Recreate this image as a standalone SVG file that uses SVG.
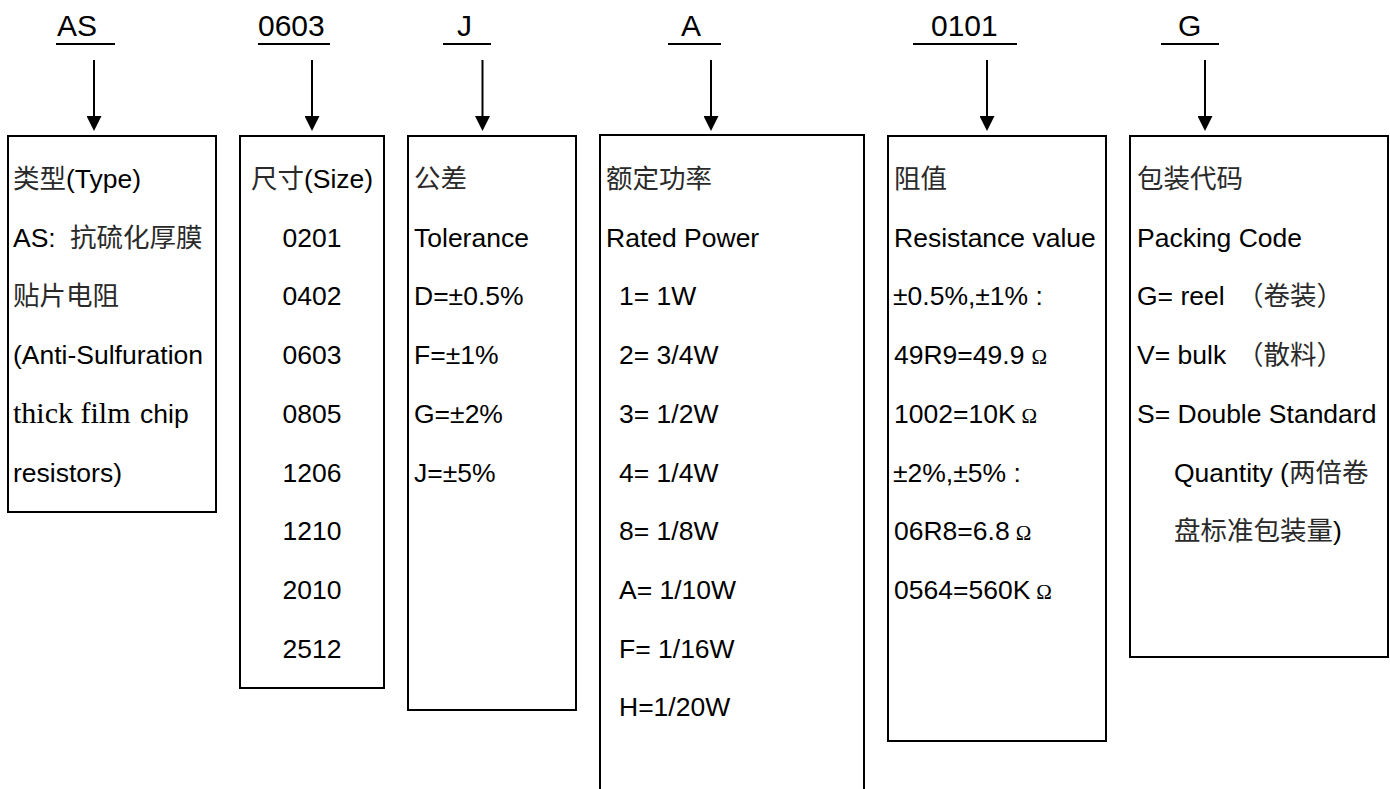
<svg xmlns="http://www.w3.org/2000/svg" width="1390" height="789" viewBox="0 0 1390 789">
<defs>
<style>
.box{fill:none;stroke:#000;stroke-width:2}
.ul{stroke:#000;stroke-width:2}
.code{font-family:"Liberation Sans",Arial,"Noto Sans CJK SC",sans-serif;font-size:30px;fill:#000}
.t{font-family:"Liberation Sans",Arial,"Noto Sans CJK SC",sans-serif;font-size:26.5px;fill:#000}
.zh{font-family:"Noto Sans CJK SC",sans-serif;fill:#2a2a2a}
.serif{font-family:"Liberation Serif","Times New Roman",serif;font-size:30px}
.ohm{font-family:"Liberation Serif","Times New Roman",serif;font-size:21px}
.c{text-anchor:middle}
.conn line{stroke:#000;stroke-width:2}
</style>
<marker id="ah" viewBox="0 0 15 15" refX="0" refY="7.5" markerWidth="15" markerHeight="15" markerUnits="userSpaceOnUse" orient="auto">
<path d="M0,0 L15,7.5 L0,15 z" fill="#000"/>
</marker>
</defs>
<rect width="1390" height="789" fill="#fff"/>

<g id="label-AS"><text class="code" x="57" y="36">AS</text><line class="ul" x1="56" y1="44" x2="115" y2="44"/></g>
<g id="label-0603"><text class="code" x="258" y="36">0603</text><line class="ul" x1="258" y1="44" x2="330" y2="44"/></g>
<g id="label-J"><text class="code" x="457" y="36">J</text><line class="ul" x1="443" y1="44" x2="491" y2="44"/></g>
<g id="label-A"><text class="code" x="681" y="36">A</text><line class="ul" x1="668" y1="44" x2="721" y2="44"/></g>
<g id="label-0101"><text class="code" x="931" y="36">0101</text><line class="ul" x1="913" y1="44" x2="1017" y2="44"/></g>
<g id="label-G"><text class="code" x="1178" y="36">G</text><line class="ul" x1="1161" y1="44" x2="1219" y2="44"/></g>

<g id="connectors" class="conn">
<line x1="94" y1="60" x2="94" y2="116" marker-end="url(#ah)"/>
<line x1="312" y1="60" x2="312" y2="116" marker-end="url(#ah)"/>
<line x1="482.5" y1="60" x2="482.5" y2="116" marker-end="url(#ah)"/>
<line x1="711" y1="60" x2="711" y2="116" marker-end="url(#ah)"/>
<line x1="987" y1="60" x2="987" y2="116" marker-end="url(#ah)"/>
<line x1="1205" y1="60" x2="1205" y2="116" marker-end="url(#ah)"/>
</g>

<g id="box-type">
<rect class="box" x="8" y="136" width="208" height="376"/>
<text class="t" x="13" y="188"><tspan class="zh">类型</tspan>(Type)</text>
<text class="t" x="13" y="246.7">AS: <tspan class="zh" x="70">抗硫化厚膜</tspan></text>
<text class="t zh" x="13" y="305.4">贴片电阻</text>
<text class="t" x="13" y="364.1">(Anti-Sulfuration</text>
<text class="t" x="13" y="422.8"><tspan class="serif">thick film</tspan><tspan x="140">chip</tspan></text>
<text class="t" x="13" y="481.5">resistors)</text>
</g>

<g id="box-size">
<rect class="box" x="240" y="136" width="144" height="552"/>
<text class="t c" x="312" y="188"><tspan class="zh">尺寸</tspan>(Size)</text>
<text class="t c" x="312" y="246.7">0201</text>
<text class="t c" x="312" y="305.4">0402</text>
<text class="t c" x="312" y="364.1">0603</text>
<text class="t c" x="312" y="422.8">0805</text>
<text class="t c" x="312" y="481.5">1206</text>
<text class="t c" x="312" y="540.2">1210</text>
<text class="t c" x="312" y="598.9">2010</text>
<text class="t c" x="312" y="657.6">2512</text>
</g>

<g id="box-tolerance">
<rect class="box" x="408" y="136" width="168" height="574"/>
<text class="t zh" x="414" y="188">公差</text>
<text class="t" x="414" y="246.7">Tolerance</text>
<text class="t" x="414" y="305.4">D=±0.5%</text>
<text class="t" x="414" y="364.1">F=±1%</text>
<text class="t" x="414" y="422.8">G=±2%</text>
<text class="t" x="414" y="481.5">J=±5%</text>
</g>

<g id="box-power">
<rect class="box" x="600" y="135" width="264" height="700" stroke-width="2.5"/>
<text class="t zh" x="606" y="188">额定功率</text>
<text class="t" x="606" y="246.7">Rated Power</text>
<text class="t" x="619" y="305.4">1= 1W</text>
<text class="t" x="619" y="364.1">2= 3/4W</text>
<text class="t" x="619" y="422.8">3= 1/2W</text>
<text class="t" x="619" y="481.5">4= 1/4W</text>
<text class="t" x="619" y="540.2">8= 1/8W</text>
<text class="t" x="619" y="598.9">A= 1/10W</text>
<text class="t" x="619" y="657.6">F= 1/16W</text>
<text class="t" x="619" y="716.3">H=1/20W</text>
</g>

<g id="box-resistance">
<rect class="box" x="888" y="136" width="218" height="605"/>
<text class="t zh" x="894" y="188">阻值</text>
<text class="t" x="894" y="246.7">Resistance value</text>
<text class="t" x="893" y="305.4">±0.5%,±1% :</text>
<text class="t" x="894" y="364.1">49R9=49.9<tspan class="ohm" dx="7">Ω</tspan></text>
<text class="t" x="894" y="422.8">1002=10K<tspan class="ohm" dx="6">Ω</tspan></text>
<text class="t" x="893" y="481.5">±2%,±5% :</text>
<text class="t" x="894" y="540.2">06R8=6.8<tspan class="ohm" dx="6">Ω</tspan></text>
<text class="t" x="894" y="598.9">0564=560K<tspan class="ohm" dx="6">Ω</tspan></text>
</g>

<g id="box-packing">
<rect class="box" x="1130" y="136" width="258" height="521"/>
<text class="t zh" x="1137" y="188">包装代码</text>
<text class="t" x="1137" y="246.7">Packing Code</text>
<text class="t" x="1137" y="305.4">G= reel <tspan class="zh" x="1237">（卷装）</tspan></text>
<text class="t" x="1137" y="364.1">V= bulk <tspan class="zh" x="1237">（散料）</tspan></text>
<text class="t" x="1137" y="422.8">S= Double Standard</text>
<text class="t" x="1174" y="481.5">Quantity (<tspan class="zh">两倍卷</tspan></text>
<text class="t" x="1174" y="540.2"><tspan class="zh">盘标准包装量</tspan>)</text>
</g>
</svg>
